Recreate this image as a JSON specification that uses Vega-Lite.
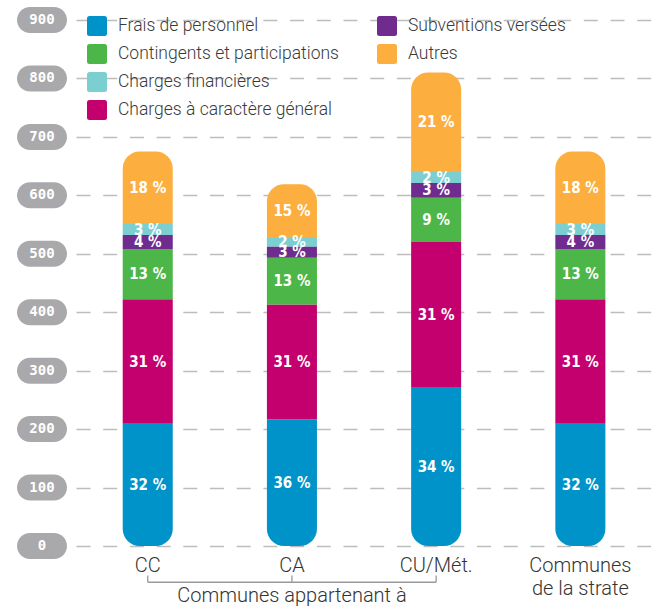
{
  "$schema": "https://vega.github.io/schema/vega-lite/v6.json",
  "padding": {"left": 17, "top": 7, "right": 0, "bottom": 0},
  "background": "white",
  "config": {"view": {"stroke": null}, "concat": {"spacing": 9}},
  "hconcat": [
    {
      "width": 50,
      "height": 526,
      "data": {"values": [{"v": 0}, {"v": 100}, {"v": 200}, {"v": 300}, {"v": 400}, {"v": 500}, {"v": 600}, {"v": 700}, {"v": 800}, {"v": 900}]},
      "layer": [
        {
          "mark": {"type": "point", "filled": true, "shape": "M-0.48,-0.52 L0.48,-0.52 C0.767,-0.52 1,-0.287 1,0 C1,0.287 0.767,0.52 0.48,0.52 L-0.48,0.52 C-0.767,0.52 -1,0.287 -1,0 C-1,-0.287 -0.767,-0.52 -0.48,-0.52 Z", "size": 2500, "color": "#a9a9ab", "opacity": 1, "strokeWidth": 0},
          "encoding": {"y": {"field": "v", "type": "quantitative", "scale": {"domain": [0, 900], "nice": false}, "axis": null}}
        },
        {
          "mark": {"type": "text", "color": "white", "font": "DejaVu Sans Mono", "fontWeight": "bold", "fontSize": 14, "baseline": "middle", "align": "center"},
          "encoding": {"y": {"field": "v", "type": "quantitative", "scale": {"domain": [0, 900], "nice": false}, "axis": null}, "text": {"field": "v", "type": "quantitative"}}
        }
      ]
    },
    {
      "width": 581,
      "height": 526,
      "data": {"values": [
        {"communes": "CC", "poste": "Frais de personnel", "valeur": 209, "label": "32 %"},
        {"communes": "CC", "poste": "Charges à caractère général", "valeur": 213, "label": "31 %"},
        {"communes": "CC", "poste": "Contingents et participations", "valeur": 86, "label": "13 %"},
        {"communes": "CC", "poste": "Subventions versées", "valeur": 24, "label": "4 %"},
        {"communes": "CC", "poste": "Charges financières", "valeur": 19, "label": "3 %"},
        {"communes": "CC", "poste": "Autres", "valeur": 124, "label": "18 %"},
        {"communes": "CA", "poste": "Frais de personnel", "valeur": 217, "label": "36 %"},
        {"communes": "CA", "poste": "Charges à caractère général", "valeur": 196, "label": "31 %"},
        {"communes": "CA", "poste": "Contingents et participations", "valeur": 80, "label": "13 %"},
        {"communes": "CA", "poste": "Subventions versées", "valeur": 19, "label": "3 %"},
        {"communes": "CA", "poste": "Charges financières", "valeur": 15, "label": "2 %"},
        {"communes": "CA", "poste": "Autres", "valeur": 92, "label": "15 %"},
        {"communes": "CU/Mét.", "poste": "Frais de personnel", "valeur": 272, "label": "34 %"},
        {"communes": "CU/Mét.", "poste": "Charges à caractère général", "valeur": 248, "label": "31 %"},
        {"communes": "CU/Mét.", "poste": "Contingents et participations", "valeur": 76, "label": "9 %"},
        {"communes": "CU/Mét.", "poste": "Subventions versées", "valeur": 25, "label": "3 %"},
        {"communes": "CU/Mét.", "poste": "Charges financières", "valeur": 19, "label": "2 %"},
        {"communes": "CU/Mét.", "poste": "Autres", "valeur": 170, "label": "21 %"},
        {"communes": "Communes de la strate", "poste": "Frais de personnel", "valeur": 209, "label": "32 %"},
        {"communes": "Communes de la strate", "poste": "Charges à caractère général", "valeur": 213, "label": "31 %"},
        {"communes": "Communes de la strate", "poste": "Contingents et participations", "valeur": 86, "label": "13 %"},
        {"communes": "Communes de la strate", "poste": "Subventions versées", "valeur": 24, "label": "4 %"},
        {"communes": "Communes de la strate", "poste": "Charges financières", "valeur": 19, "label": "3 %"},
        {"communes": "Communes de la strate", "poste": "Autres", "valeur": 124, "label": "18 %"}
      ]},
      "transform": [
        {"calculate": "indexof(['Frais de personnel','Charges à caractère général','Contingents et participations','Subventions versées','Charges financières','Autres'], datum.poste)", "as": "ordre"},
        {"stack": "valeur", "groupby": ["communes"], "sort": [{"field": "ordre", "order": "ascending"}], "as": ["y0", "y1"]},
        {"calculate": "(datum.y0 + datum.y1) / 2", "as": "mid"}
      ],
      "layer": [
        {
          "transform": [{"filter": "datum.poste !== 'Subventions versées' && datum.poste !== 'Autres'"}],
          "mark": {"type": "bar", "cornerRadiusBottomLeft": {"expr": "datum.poste === 'Frais de personnel' ? 17 : 0"}, "cornerRadiusBottomRight": {"expr": "datum.poste === 'Frais de personnel' ? 17 : 0"}},
          "encoding": {
            "x": {"field": "communes", "type": "nominal", "title": null,
              "scale": {"domain": ["CC", "CA", "CU/Mét.", "Communes de la strate"], "paddingInner": 0.653, "paddingOuter": 0.341, "align": 0.475},
              "axis": {"domain": false, "ticks": false, "grid": false, "labelAngle": 0, "labelFont": "Roboto", "labelFontWeight": 300, "labelFontSize": 20, "labelColor": "#333333", "labelPadding": 9, "labelLineHeight": 23,
                "labelExpr": "datum.value == 'Communes de la strate' ? ['Communes', 'de la strate'] : datum.value"}},
            "y": {"field": "y1", "type": "quantitative", "title": null, "scale": {"domain": [0, 900], "nice": false},
              "axis": {"values": [0, 100, 200, 300, 400, 500, 600, 700, 800, 900], "labels": false, "ticks": false, "domain": false, "grid": true, "gridDash": [14, 12.7], "gridColor": "#bdbdbd", "gridWidth": 1.3}},
            "y2": {"field": "y0"},
            "color": {"field": "poste", "type": "nominal",
              "scale": {"domain": ["Frais de personnel", "Contingents et participations", "Charges financières", "Charges à caractère général"], "range": ["#0093c9", "#4cb748", "#7ccfd1", "#c4006e"]},
              "legend": {"title": null, "orient": "none", "legendX": 70, "legendY": -4, "direction": "vertical", "padding": 0,
                "symbolType": "M-0.75,-1 L0.75,-1 Q1,-1 1,-0.75 L1,0.75 Q1,1 0.75,1 L-0.75,1 Q-1,1 -1,0.75 L-1,-0.75 Q-1,-1 -0.75,-1 Z",
                "symbolSize": 400, "symbolStrokeWidth": 0, "symbolOpacity": 1, "labelFont": "Roboto", "labelFontWeight": 300, "labelFontSize": 17.5, "labelColor": "#3a3a3a", "labelOffset": 11, "rowPadding": 8, "labelLimit": 400}}
          }
        },
        {
          "transform": [{"filter": "datum.poste === 'Subventions versées' || datum.poste === 'Autres'"}],
          "mark": {"type": "bar", "cornerRadiusTopLeft": {"expr": "datum.poste === 'Autres' ? 17 : 0"}, "cornerRadiusTopRight": {"expr": "datum.poste === 'Autres' ? 17 : 0"}},
          "encoding": {
            "x": {"field": "communes", "type": "nominal", "title": null, "scale": {"domain": ["CC", "CA", "CU/Mét.", "Communes de la strate"]}},
            "y": {"field": "y1", "type": "quantitative", "title": null, "scale": {"domain": [0, 900], "nice": false}},
            "y2": {"field": "y0"},
            "fill": {"field": "poste", "type": "nominal",
              "scale": {"domain": ["Subventions versées", "Autres"], "range": ["#702b8f", "#fcaf3f"]},
              "legend": {"title": null, "orient": "none", "legendX": 360, "legendY": -4, "direction": "vertical", "padding": 0,
                "symbolType": "M-0.75,-1 L0.75,-1 Q1,-1 1,-0.75 L1,0.75 Q1,1 0.75,1 L-0.75,1 Q-1,1 -1,0.75 L-1,-0.75 Q-1,-1 -0.75,-1 Z",
                "symbolSize": 400, "symbolStrokeWidth": 0, "symbolOpacity": 1, "labelFont": "Roboto", "labelFontWeight": 300, "labelFontSize": 17.5, "labelColor": "#3a3a3a", "labelOffset": 11, "rowPadding": 8, "labelLimit": 400}}
          }
        },
        {
          "mark": {"type": "text", "color": "white", "font": "DejaVu Sans Condensed", "fontWeight": "bold", "fontSize": 15, "baseline": "middle", "align": "center"},
          "encoding": {
            "x": {"field": "communes", "type": "nominal", "title": null, "scale": {"domain": ["CC", "CA", "CU/Mét.", "Communes de la strate"]}},
            "y": {"field": "mid", "type": "quantitative", "title": null, "scale": {"domain": [0, 900], "nice": false}},
            "text": {"field": "label", "type": "nominal"}
          }
        },
        {
          "data": {"values": [{"c": "CC"}, {"c": "CA"}, {"c": "CU/Mét."}]},
          "mark": {"type": "rule", "color": "#9a9a9a", "strokeWidth": 1.3},
          "encoding": {
            "x": {"field": "c", "type": "nominal", "title": null, "scale": {"domain": ["CC", "CA", "CU/Mét.", "Communes de la strate"]}},
            "y": {"datum": -50.5, "type": "quantitative", "title": null, "scale": {"domain": [0, 900], "nice": false}},
            "y2": {"datum": -62}
          }
        },
        {
          "data": {"values": [{"c": "CC", "c2": "CU/Mét."}]},
          "mark": {"type": "rule", "color": "#9a9a9a", "strokeWidth": 1.3},
          "encoding": {
            "x": {"field": "c", "type": "nominal", "title": null, "scale": {"domain": ["CC", "CA", "CU/Mét.", "Communes de la strate"]}},
            "x2": {"field": "c2"},
            "y": {"datum": -62, "type": "quantitative", "title": null, "scale": {"domain": [0, 900], "nice": false}}
          }
        },
        {
          "data": {"values": [{"c": "CA", "t": "Communes appartenant à"}]},
          "mark": {"type": "text", "font": "Roboto", "fontWeight": 300, "fontSize": 20, "color": "#333333", "baseline": "alphabetic", "align": "center"},
          "encoding": {
            "x": {"field": "c", "type": "nominal", "title": null, "scale": {"domain": ["CC", "CA", "CU/Mét.", "Communes de la strate"]}},
            "y": {"datum": -96, "type": "quantitative", "title": null, "scale": {"domain": [0, 900], "nice": false}},
            "text": {"field": "t", "type": "nominal"}
          }
        }
      ]
    }
  ]
}
